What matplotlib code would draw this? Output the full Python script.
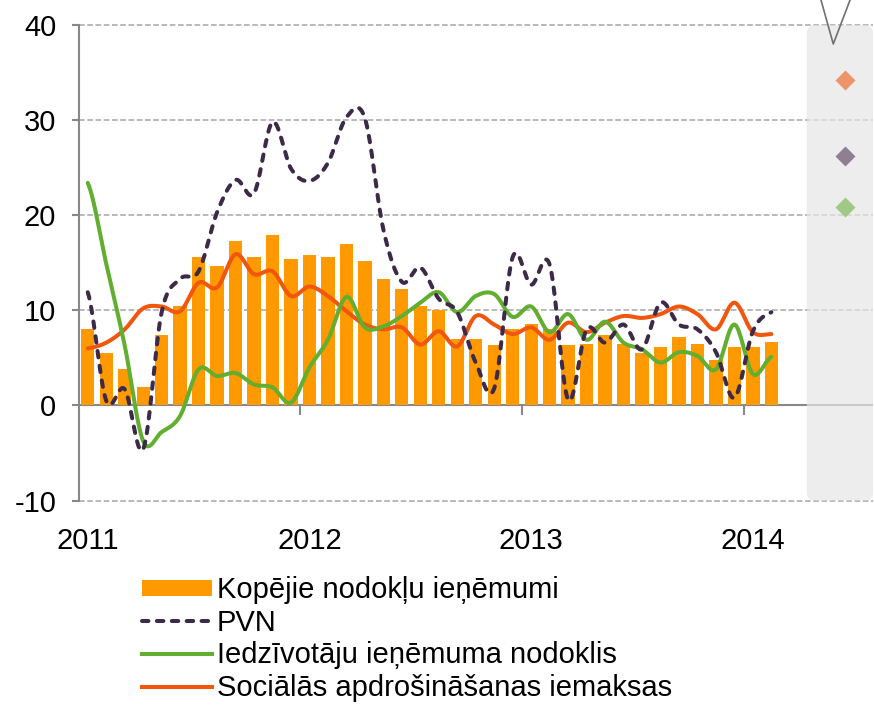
import numpy as np
import matplotlib
matplotlib.use("Agg")
import matplotlib.pyplot as plt
from matplotlib.patches import FancyBboxPatch, Patch
from matplotlib.lines import Line2D

plt.rcParams['font.family'] = ['Liberation Sans', 'DejaVu Sans']

# ---- data (monthly, Jan 2011 .. Feb 2014) ----
years = [2011, 2012, 2013, 2014]
months = [f"{y}-{m:02d}" for y in years for m in range(1, 13)][:38]

total = [8.0, 5.5, 3.8, 1.9, 7.4, 10.5, 15.6, 14.7, 17.3, 15.6, 17.9, 15.4,
         15.8, 15.6, 17.0, 15.2, 13.3, 12.2, 10.5, 10.0, 7.0, 7.0, 6.3, 8.0,
         8.6, 8.0, 6.3, 6.5, 7.4, 6.5, 5.5, 6.1, 7.2, 6.5, 4.8, 6.1,
         6.1, 6.7]
pvn = [11.9, 0.5, 1.7, -4.6, 9.8, 13.3, 14.1, 20.3, 23.7, 22.3, 29.8, 24.9,
       23.6, 25.5, 30.3, 30.2, 18.5, 13.0, 14.5, 11.2, 9.8, 4.5, 1.8, 15.6,
       12.7, 14.8, 0.6, 8.0, 6.6, 8.5, 5.9, 10.8, 8.5, 8.0, 5.6, 0.8,
       7.8, 9.8]
iin = [23.4, 14.9, 6.3, -3.75, -2.8, -1.1, 3.8, 3.1, 3.4, 2.2, 1.9, 0.3,
       4.0, 6.9, 11.4, 8.2, 8.3, 9.4, 10.8, 11.9, 9.8, 11.5, 11.7, 9.3,
       10.4, 7.7, 9.6, 6.9, 8.8, 6.6, 5.9, 4.5, 5.6, 5.2, 3.8, 8.5,
       3.3, 5.1]
soc = [6.0, 6.6, 8.0, 10.2, 10.4, 9.9, 12.9, 12.4, 15.9, 13.8, 14.1, 11.5,
       12.5, 11.5, 9.9, 8.5, 8.0, 8.2, 6.4, 7.8, 6.2, 9.4, 8.5, 7.5,
       8.2, 6.9, 8.7, 7.7, 8.7, 9.4, 9.2, 9.6, 10.4, 9.6, 8.0, 10.8,
       7.7, 7.5]
forecast = {"soc": 34.2, "pvn": 26.2, "iin": 20.9}

labels = ["Kopējie nodokļu ieņēmumi", "PVN",
          "Iedzīvotāju ieņēmuma nodoklis", "Sociālās apdrošināšanas iemaksas"]

C_BAR = "#ff9900"
C_PVN = "#3c2a48"
C_IIN = "#62ae30"
C_SOC = "#f0560c"
C_GRID = "#a6a6a6"
C_AX = "#888888"
LW = 2.9
DASH = (0, (1.6, 2.1))
FS = 21


def smooth(vals, n=30):
    """Catmull-Rom style smoothing (like Excel's smoothed lines)."""
    y = np.asarray(vals, float)
    N = len(y)
    xs, ys = [], []
    for i in range(N - 1):
        p0 = y[i - 1] if i > 0 else y[i]
        p1, p2 = y[i], y[i + 1]
        p3 = y[i + 2] if i + 2 < N else y[i + 1]
        m1 = (p2 - p0) / 2.0
        m2 = (p3 - p1) / 2.0
        t = np.linspace(0, 1, n, endpoint=False)
        h00 = 2 * t**3 - 3 * t**2 + 1
        h10 = t**3 - 2 * t**2 + t
        h01 = -2 * t**3 + 3 * t**2
        h11 = t**3 - t**2
        xs.append(i + t)
        ys.append(h00 * p1 + h10 * m1 + h01 * p2 + h11 * m2)
    xs.append([N - 1])
    ys.append([y[-1]])
    return np.concatenate(xs), np.concatenate(ys)


W, H = 874, 706
fig = plt.figure(figsize=(W / 100, H / 100), dpi=100)
ax_l, ax_r, ax_t, ax_b = 78.5, 873, 25, 500.5
ax = fig.add_axes([ax_l / W, 1 - ax_b / H, (ax_r - ax_l) / W, (ax_b - ax_t) / H])
ax.set_xlim(-0.5, 42.5)
ax.set_ylim(-10, 40)

# gridlines
for v in [-10, 10, 20, 30, 40]:
    ax.axhline(v, color=C_GRID, lw=1.1, ls=(0, (3.7, 1.7)), zorder=0.5, clip_on=False)
ax.axhline(0, color=C_AX, lw=1.5, zorder=1.5)

# forecast panel
aspect = (ax_r - ax_l) / (ax_b - ax_t)
x0 = (38.92 + 0.5) / 43.0
panel = FancyBboxPatch((x0, 0), 1 - x0, 1.0,
                       boxstyle="round,pad=0,rounding_size=0.01",
                       mutation_aspect=aspect, transform=ax.transAxes,
                       fc="#e6e6e6", ec="none", alpha=0.7, zorder=1.6,
                       clip_on=False)
ax.add_patch(panel)

x = np.arange(len(total))
ax.bar(x, total, width=0.72, color=C_BAR, zorder=2)

# year boundary ticks on the zero line
ax.vlines([11.5, 23.5, 35.5], -1.0, 0, color=C_AX, lw=1.5, zorder=1.5)

xs, ys = smooth(soc)
ax.plot(xs, ys, color=C_SOC, lw=LW, zorder=4, solid_capstyle='round')
xs, ys = smooth(iin)
ax.plot(xs, ys, color=C_IIN, lw=LW, zorder=4.5, solid_capstyle='round')
xs, ys = smooth(pvn)
ax.plot(xs, ys, color=C_PVN, lw=LW, ls=DASH, dash_capstyle='round', zorder=5)

# forecast markers
fx = 41.0
ax.plot([fx], [forecast["soc"]], marker='D', ms=10, color="#ec956a", mec='none', zorder=6)
ax.plot([fx], [forecast["pvn"]], marker='D', ms=10, color="#8e7f93", mec='none', zorder=6)
ax.plot([fx], [forecast["iin"]], marker='D', ms=10, color="#9fca85", mec='none', zorder=6)

# V marker at top of panel
ax.plot([39.56, 40.35, 41.43], [43.5, 38.0, 43.5], color="#707070", lw=1.2,
        clip_on=False, zorder=6)

# axes styling
for s in ['top', 'right', 'bottom']:
    ax.spines[s].set_visible(False)
ax.spines['left'].set_color(C_AX)
ax.spines['left'].set_linewidth(1.5)
ax.set_yticks([-10, 0, 10, 20, 30, 40])
ax.set_yticklabels(["-10", "0", "10", "20", "30", "40"])
ax.tick_params(axis='y', length=5, width=1.5, color=C_AX, pad=11, labelsize=FS)
ax.set_xticks([0, 12, 24, 36])
ax.set_xticklabels([str(y) for y in years])
ax.tick_params(axis='x', length=0, pad=19, labelsize=FS)

handles = [Patch(facecolor=C_BAR, edgecolor='none'),
           Line2D([], [], color=C_PVN, lw=LW, ls=DASH, dash_capstyle='round'),
           Line2D([], [], color=C_IIN, lw=LW),
           Line2D([], [], color=C_SOC, lw=LW)]
fig.legend(handles, labels, loc='upper left', bbox_to_anchor=(142 / W, 1 - 576 / H),
           frameon=False, fontsize=FS, borderpad=0, borderaxespad=0,
           handlelength=2.4, handleheight=0.48, handletextpad=0.17,
           labelspacing=0.16)

fig.savefig("out.png", dpi=100)
